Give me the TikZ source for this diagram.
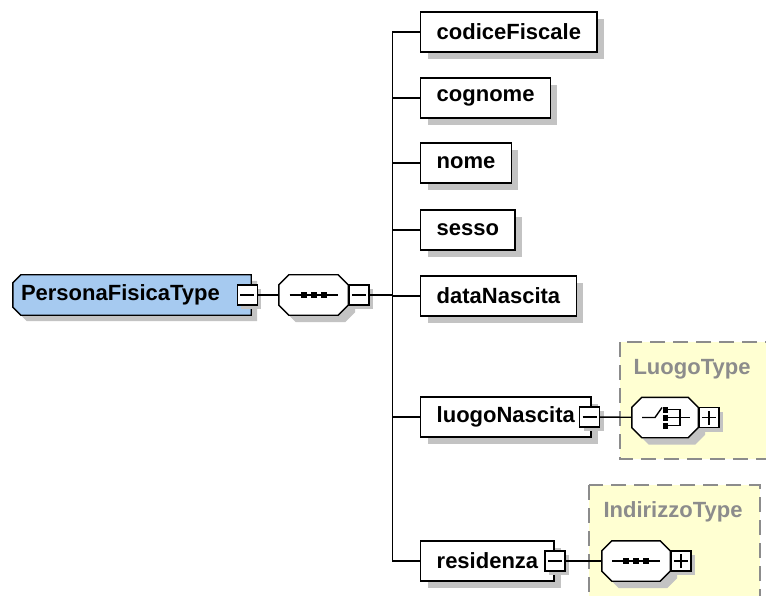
\documentclass[tikz,border=0pt]{standalone}
\usepackage{fontspec}
\setmainfont{Liberation Sans}
\usetikzlibrary{shapes,arrows,positioning,calc,shadows,backgrounds}

\definecolor{typeblue}{RGB}{166,202,240}
\definecolor{typeyellow}{RGB}{255,255,210}
\definecolor{typegray}{RGB}{140,140,140}
\definecolor{shadowgray}{RGB}{195,195,195}

% ottagono attorno a un nodo
\newcommand{\octa}[1]{([xshift=10pt]#1.north west) -- ([xshift=-10pt]#1.north east)
  -- ([yshift=-10pt]#1.north east) -- ([yshift=10pt]#1.south east)
  -- ([xshift=-10pt]#1.south east) -- ([xshift=10pt]#1.south west)
  -- ([yshift=10pt]#1.south west) -- ([yshift=-10pt]#1.north west) -- cycle}
% tipo complesso (angoli smussati a sinistra)
\newcommand{\typeshape}[1]{([xshift=8pt]#1.north west) -- (#1.north east) -- (#1.south east)
  -- ([xshift=8pt]#1.south west) -- ([yshift=8pt]#1.south west)
  -- ([yshift=-8pt]#1.north west) -- cycle}

\tikzset{
  shade/.style={drop shadow={shadow xshift=#1, shadow yshift=-#1, fill=shadowgray, opacity=1}},
  elem/.style={draw, rectangle, fill=white, line width=1.4pt, minimum height=40,
    inner xsep=16pt, anchor=west, font=\bfseries\fontsize{22}{26}\selectfont, shade=7pt},
  octa/.style={rectangle, minimum height=40, inner sep=0pt},
  octashadow/.style={fill=shadowgray, transform canvas={shift={(7pt,-7pt)}}},
  octaline/.style={draw, fill=white, line width=1.4pt},
  pmbox/.style={draw, rectangle, fill=white, line width=1.4pt, minimum size=20,
    inner sep=0pt, shade=4pt},
  minusbox/.style={pmbox, path picture={
    \draw[line width=1.4pt] ([xshift=-7pt]path picture bounding box.center)
      -- ([xshift=7pt]path picture bounding box.center);}},
  plusbox/.style={pmbox, path picture={
    \draw[line width=1.4pt] ([xshift=-7pt]path picture bounding box.center)
      -- ([xshift=7pt]path picture bounding box.center);
    \draw[line width=1.4pt] ([yshift=-7pt]path picture bounding box.center)
      -- ([yshift=7pt]path picture bounding box.center);}},
  typebox/.style={draw=typegray, fill=typeyellow, line width=1.5pt, dash pattern=on 15pt off 8pt},
  typelabel/.style={text=typegray, font=\bfseries\fontsize{22}{26}\selectfont},
  conn/.style={draw, line width=1.4pt},
  icon/.style={line width=1.4pt}
}

% simbolo di sequenza
\newcommand{\seqicon}[1]{%
  \draw[icon] ([xshift=-24pt]#1.center) -- ([xshift=24pt]#1.center);
  \foreach \dx in {-13,-3,7} \fill[black] ([xshift=\dx pt, yshift=-3pt]#1.center) rectangle ++(6pt,6pt);}
% simbolo di scelta
\newcommand{\choiceicon}[1]{%
  \draw[icon] ([xshift=-23pt]#1.center) -- ([xshift=-10pt]#1.center) -- ([xshift=-3pt, yshift=10pt]#1.center);
  \foreach \dy in {-11,-3,5} \fill[black] ([xshift=-2pt, yshift=\dy pt]#1.center) rectangle ++(5pt,6pt);
  \draw[icon] ([xshift=3pt, yshift=8pt]#1.center) -- ([xshift=15pt, yshift=8pt]#1.center)
    -- ([xshift=15pt, yshift=-8pt]#1.center) -- ([xshift=3pt, yshift=-8pt]#1.center);
  \draw[icon] ([xshift=3pt]#1.center) -- ([xshift=25pt]#1.center);}

\begin{document}
\begin{tikzpicture}[x=1pt, y=-1pt]
\useasboundingbox (0,0) rectangle (766,596);

% tipi referenziati
\begin{scope}[on background layer]
\fill[white] (0,0) rectangle (766,596);
\clip (0,0) rectangle (766,596);
\path[typebox] (620,342) rectangle (790,459);
\path[typebox] (589,485) rectangle (760,620);
\end{scope}
\node[typelabel] (luogotype) at (692,369) {LuogoType};
\node[typelabel] (indirizzotype) at (673,512) {IndirizzoType};

% PersonaFisicaType
\node[rectangle, minimum height=40, text width=222, inner xsep=8pt, align=left,
  font=\bfseries\fontsize{22}{26}\selectfont] (pft) at (132,295) {PersonaFisicaType};
\node[minusbox] (pftm) at ([xshift=-4]pft.east) {};

% sequenza
\node[octa, minimum width=69] (seq) at (313.5,295) {};
\node[minusbox, anchor=west] (seqm) at (seq.east) {};

% elementi
\node[elem] (codice) at (420,32) {codiceFiscale};
\node[elem] (cognome) at (420,98) {cognome};
\node[elem] (nome) at (420,163) {nome};
\node[elem] (sesso) at (420,230) {sesso};
\node[elem] (datanascita) at (420,296) {dataNascita};
\node[elem] (luogonascita) at (420,417) {luogoNascita};
\node[minusbox] (luogom) at ([xshift=-2]luogonascita.east) {};
\node[elem] (residenza) at (420,561) {residenza};
\node[minusbox] (residenzam) at (residenza.east) {};

% LuogoType: scelta
\node[octa, minimum width=66] (luogochoice) at (665,417.5) {};
\node[plusbox, anchor=west] (luogop) at (luogochoice.east) {};

% IndirizzoType: sequenza
\node[octa, minimum width=68] (indseq) at (636,561) {};
\node[plusbox, anchor=west] (indp) at (indseq.east) {};

% forme sotto i nodi
\begin{scope}[on background layer]
\fill[shadowgray, transform canvas={shift={(6pt,-6pt)}}] \typeshape{pft};
\path[draw, fill=typeblue, line width=1.4pt] \typeshape{pft};
\foreach \o in {seq,luogochoice,indseq} {
  \path[octashadow] \octa{\o};
  \path[octaline] \octa{\o};
}
\end{scope}
\seqicon{seq}
\seqicon{indseq}
\choiceicon{luogochoice}

% collegamenti
\draw[conn] (pftm) -- (seq);
\draw[conn] (seqm.east) -- ++(23,0) coordinate (bus);
\foreach \n in {codice,cognome,nome,sesso,datanascita,luogonascita,residenza}
  \draw[conn] (bus) |- (\n.west);
\draw[conn] (luogom) -- (luogochoice);
\draw[conn] (residenzam) -- (indseq);
\end{tikzpicture}
\end{document}
